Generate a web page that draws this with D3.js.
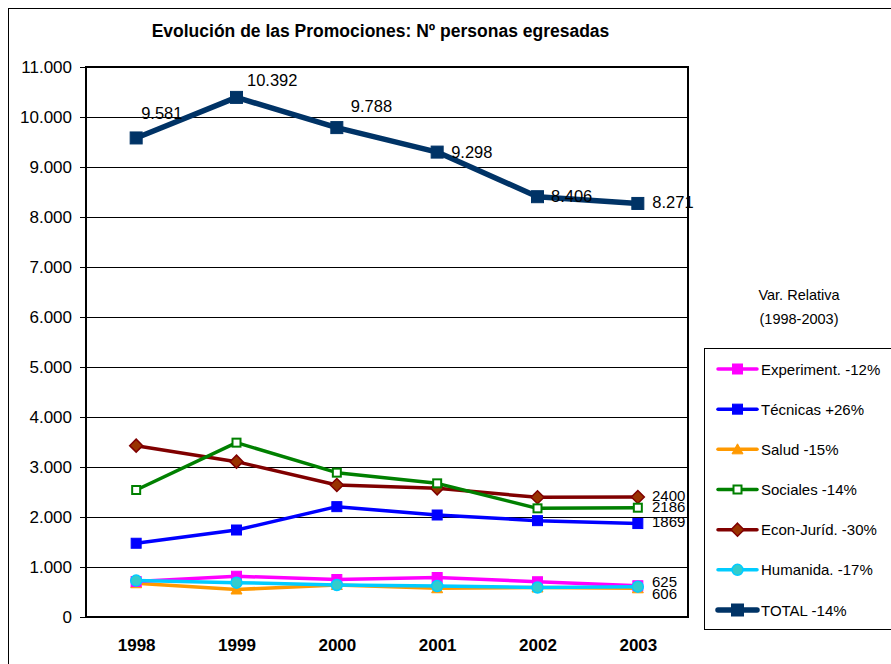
<!DOCTYPE html>
<html><head><meta charset="utf-8">
<script src="https://cdn.jsdelivr.net/npm/d3@7"></script>
<style>body{margin:0;background:#fff;}svg{display:block;font-family:Arial,"Liberation Sans",sans-serif;}</style>
</head><body><svg id="c" width="891" height="664"></svg>
<script>
const years = ["1998","1999","2000","2001","2002","2003"];
const seriesNames = ["Experiment. -12%","Técnicas +26%","Salud -15%","Sociales -14%","Econ-Juríd. -30%","Humanida. -17%","TOTAL -14%"];
const experiment = [710, 815, 750, 790, 705, 625];
const tecnicas = [1475, 1740, 2207, 2040, 1927, 1869];
const salud = [675, 550, 640, 575, 590, 574];
const sociales = [2540, 3487, 2887, 2673, 2173, 2186];
const econ = [3427, 3107, 2640, 2573, 2395, 2400];
const humanida = [728, 687, 640, 620, 590, 606];
const total = [9581, 10392, 9788, 9298, 8406, 8271];
const yTicks = [0,1000,2000,3000,4000,5000,6000,7000,8000,9000,10000,11000];
const endLabels = [["2400",2400],["2186",2186],["1869",1869],["625",625],["606",606]];

const styles = [
  {data:experiment, color:"#FF00FF", marker:"square", fill:"#FF00FF", stroke:"#FF00FF", size:11, w:3.5},
  {data:tecnicas, color:"#0000FF", marker:"square", fill:"#0000FF", stroke:"#0000FF", size:11, w:3.5},
  {data:salud, color:"#FF9900", marker:"triangle", fill:"#FF9900", stroke:"#FF9900", size:11, w:3.5},
  {data:sociales, color:"#008000", marker:"square", fill:"#FFFFFF", stroke:"#008000", size:10, w:3.5},
  {data:econ, color:"#800000", marker:"diamond", fill:"#993300", stroke:"#800000", size:13, w:3.5},
  {data:humanida, color:"#00CCFF", marker:"circle", fill:"#33CCCC", stroke:"#00CCFF", size:11, w:3.5},
  {data:total, color:"#003366", marker:"square", fill:"#003366", stroke:"#003366", size:13, w:5.5}
];

const svg = d3.select("#c");
svg.append("rect").attr("x",8.5).attr("y",8.5).attr("width",900).attr("height",700).attr("fill","#fff").attr("stroke","#000").attr("stroke-width",1);

const x = d3.scalePoint().domain(years).range([86,688]).padding(0.5);
const y = d3.scaleLinear().domain([0,11000]).range([617,67]);

svg.append("text").attr("x",380.5).attr("y",37).attr("text-anchor","middle").attr("font-weight","bold").attr("font-size",17.5).text("Evolución de las Promociones: Nº personas egresadas");

// gridlines
svg.append("g").selectAll("line").data(yTicks.filter(d=>d>0)).join("line")
  .attr("x1",86).attr("x2",688).attr("y1",d=>y(d)).attr("y2",d=>y(d)).attr("stroke","#000").attr("stroke-width",1).attr("shape-rendering","crispEdges");
svg.append("rect").attr("x",86).attr("y",67).attr("width",602).attr("height",550).attr("fill","none").attr("stroke","#000").attr("stroke-width",2);

const yAxis = svg.append("g").attr("transform","translate(86,0)")
  .call(d3.axisLeft(y).tickValues(yTicks).tickSize(6).tickPadding(8).tickFormat(d=>d===0?"0":d3.format(",")(d).replace(/,/g,".")));
yAxis.select(".domain").remove();
yAxis.selectAll("text").attr("font-size",17).attr("font-family","Arial,'Liberation Sans',sans-serif").attr("fill","#000");
yAxis.selectAll("line").attr("stroke","#000");

const xAxis = svg.append("g").attr("transform","translate(0,617)")
  .call(d3.axisBottom(x).tickSize(0));
xAxis.select(".domain").remove();
xAxis.selectAll("text").attr("y",33.5).attr("dy",0).attr("font-size",17).attr("font-weight","bold").attr("font-family","Arial,'Liberation Sans',sans-serif").attr("fill","#000");

function drawMarker(g, s, cx, cy){
  const h = s.size/2;
  if(s.marker==="square"){
    const sw = s.fill==="#FFFFFF"?2:1;
    g.append("rect").attr("x",cx-h+sw/2).attr("y",cy-h+sw/2).attr("width",s.size-sw).attr("height",s.size-sw).attr("fill",s.fill).attr("stroke",s.stroke).attr("stroke-width",sw);
  } else if(s.marker==="triangle"){
    g.append("path").attr("d",`M${cx},${cy-h}L${cx+h},${cy+h-1}L${cx-h},${cy+h-1}Z`).attr("fill",s.fill).attr("stroke",s.stroke);
  } else if(s.marker==="diamond"){
    g.append("path").attr("d",`M${cx},${cy-h}L${cx+h},${cy}L${cx},${cy+h}L${cx-h},${cy}Z`).attr("fill",s.fill).attr("stroke",s.stroke).attr("stroke-width",1.5);
  } else {
    g.append("circle").attr("cx",cx).attr("cy",cy).attr("r",h).attr("fill",s.fill).attr("stroke",s.stroke).attr("stroke-width",1.5);
  }
}

const line = d3.line().x((d,i)=>x(years[i])).y(d=>y(d));
const order = [4,3,1,2,0,5,6];
order.forEach(k=>{
  const s = styles[k];
  const g = svg.append("g");
  g.append("path").datum(s.data).attr("d",line).attr("fill","none").attr("stroke",s.color).attr("stroke-width",s.w).attr("stroke-linejoin","round");
  s.data.forEach((v,i)=>drawMarker(g,s,x(years[i]),y(v)));
});

// total labels
const totOff = [[5,-18.5],[10.5,-11],[14,-16],[14,5.5],[13.5,5],[14.5,5]];
svg.append("g").selectAll("text").data(total).join("text")
  .attr("x",(d,i)=>x(years[i])+totOff[i][0]).attr("y",(d,i)=>y(d)+totOff[i][1])
  .attr("font-size",16.5).attr("fill","#000")
  .text(d=>d3.format(",")(d).replace(/,/g,"."));

// end labels
const endDy = [4,4,3.5,1.5,12.5];
svg.append("g").selectAll("text").data(endLabels).join("text")
  .attr("x",652).attr("y",(d,i)=>y(d[1])+endDy[i]).attr("font-size",15).attr("fill","#000").text(d=>d[0]);

// legend
svg.append("text").attr("x",799).attr("y",300).attr("text-anchor","middle").attr("font-size",14.5).text("Var. Relativa");
svg.append("text").attr("x",799).attr("y",324).attr("text-anchor","middle").attr("font-size",14.5).text("(1998-2003)");
svg.append("rect").attr("x",704.5).attr("y",348.5).attr("width",200).attr("height",281).attr("fill","#fff").attr("stroke","#000");
const legY = d3.scalePoint().domain(seriesNames).range([369,610]);
seriesNames.forEach((n,k)=>{
  const s = styles[k];
  const g = svg.append("g");
  const cy = legY(n);
  g.append("line").attr("x1",718).attr("x2",757).attr("y1",cy).attr("y2",cy).attr("stroke",s.color).attr("stroke-width",s.w).attr("stroke-linecap","round");
  drawMarker(g,s,737.5,cy);
  g.append("text").attr("x",761).attr("y",cy+5.5).attr("font-size",15).text(n);
});
</script></body></html>
